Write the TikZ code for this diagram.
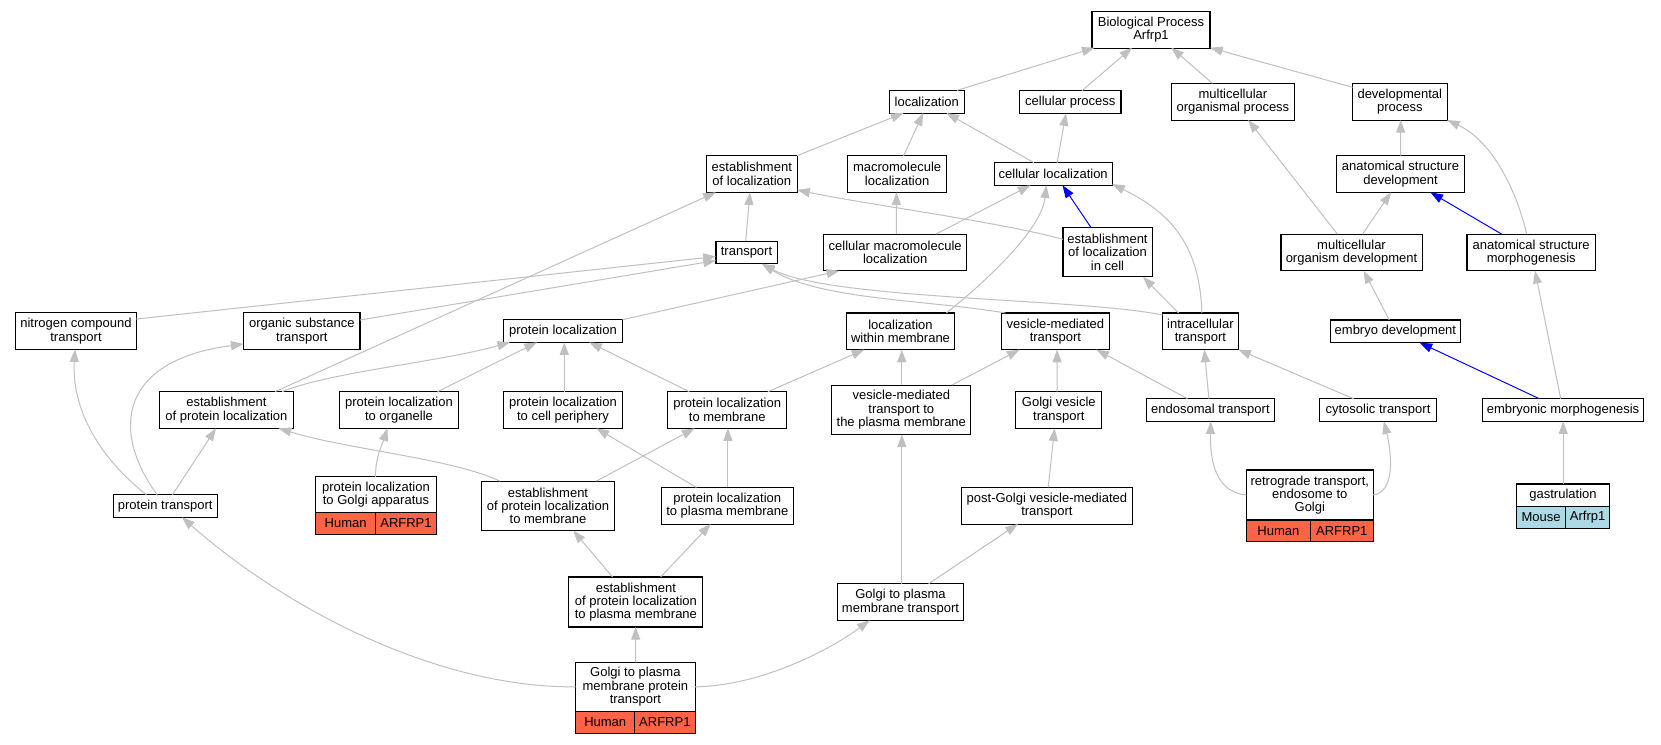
\documentclass[tikz,border=0pt]{standalone}
\usepackage{fontspec}
\setmainfont{Liberation Sans}
\usetikzlibrary{calc,arrows.meta}
\definecolor{edgegray}{HTML}{C0C0C0}
\definecolor{tomatoc}{HTML}{FF6347}
\definecolor{lblue}{HTML}{ADD8E6}
\begin{document}
\begin{tikzpicture}[x=0.75pt,y=-0.75pt,
 box/.style={draw=black, line width=0.8pt, fill=white, align=center, inner sep=1pt, outer sep=0pt, font=\fontsize{9.75}{10}\selectfont, minimum height=17pt},
 two/.style={minimum height=27.5pt},
 three/.style={minimum height=37pt},
 cell/.style={draw=black, line width=0.8pt, inner sep=0pt, outer sep=0pt, font=\fontsize{9.75}{10}\selectfont, minimum height=16.2pt},
 conn/.style={draw=edgegray, line width=0.75pt, -{Triangle[length=9.5pt,width=6.8pt]}},
 bconn/.style={conn, draw=blue},
]
\fill[white] (0,0) rectangle (1661,744);
\useasboundingbox (0,0) rectangle (1661,744);

% nodes
\node[box,two,minimum width=88.5pt] (bp) at (1151,29.7) {Biological Process\\Arfrp1};
\node[box,minimum width=56.25pt] (loc) at (926.8,101.7) {localization};
\node[box,minimum width=76pt] (cp) at (1070.3,102) {cellular process};
\node[box,two,minimum width=92.2pt] (mop) at (1232.9,101.7) {multicellular\\organismal process};
\node[box,two,minimum width=71pt] (dp) at (1399.8,101.7) {developmental\\process};
\node[box,two,minimum width=68pt] (eol) at (751.8,174) {establishment\\of localization};
\node[box,two,minimum width=74.5pt] (ml) at (897.1,174) {macromolecule\\localization};
\node[box,minimum width=88.3pt] (cl) at (1053.2,174) {cellular localization};
\node[box,two,minimum width=96.2pt] (asd) at (1400.5,174) {anatomical structure\\development};
\node[box,minimum width=45.8pt] (tr) at (746.5,252.5) {transport};
\node[box,two,minimum width=107.4pt] (cml) at (895.2,252.5) {cellular macromolecule\\localization};
\node[box,three,minimum width=66.8pt] (elc) at (1107.5,252.2) {establishment\\of localization\\in cell};
\node[box,two,minimum width=105.8pt] (mod) at (1351.5,252.5) {multicellular\\organism development};
\node[box,two,minimum width=96.3pt] (asm) at (1531.2,252.5) {anatomical structure\\morphogenesis};
\node[box,two,minimum width=90.5pt] (nct) at (76,331) {nitrogen compound\\transport};
\node[box,two,minimum width=87.3pt] (ost) at (301.8,331) {organic substance\\transport};
\node[box,minimum width=89.2pt] (pl) at (563,331) {protein localization};
\node[box,two,minimum width=81.2pt] (lwm) at (900.5,331.3) {localization\\within membrane};
\node[box,two,minimum width=81pt] (vmt) at (1055.4,331.3) {vesicle-mediated\\transport};
\node[box,two,minimum width=56.8pt] (it) at (1200.4,331.3) {intracellular\\transport};
\node[box,minimum width=98pt] (ed) at (1395.4,331.3) {embryo development};
\node[box,two,minimum width=100.2pt] (epl) at (226.4,410) {establishment\\of protein localization};
\node[box,two,minimum width=89.5pt] (plo) at (399,410) {protein localization\\to organelle};
\node[box,two,minimum width=89.2pt] (plcp) at (563,410) {protein localization\\to cell periphery};
\node[box,two,minimum width=88.9pt] (plm) at (727.2,410) {protein localization\\to membrane};
\node[box,three,minimum width=104.2pt] (vmtpm) at (901.3,409.8) {vesicle-mediated\\transport to\\the plasma membrane};
\node[box,two,minimum width=64.6pt] (gvt) at (1058.8,410) {Golgi vesicle\\transport};
\node[box,minimum width=95.9pt] (et) at (1210.4,410) {endosomal transport};
\node[box,minimum width=88.1pt] (ct) at (1378,410) {cytosolic transport};
\node[box,minimum width=121.4pt] (em) at (1563,410) {embryonic morphogenesis};
\node[box,minimum width=77.9pt] (pt) at (165.2,506) {protein transport};
\node[box,minimum width=90.5pt,minimum height=26.8pt] (plga) at (376,494.8) {protein localization\\to Golgi apparatus};
\node[cell,fill=tomatoc,minimum width=45pt,anchor=north west] (plgah) at (plga.south west) {Human};
\node[cell,fill=tomatoc,minimum width=45.5pt,anchor=north east] (plgaa) at (plga.south east) {ARFRP1};
\node[box,three,minimum width=99.9pt] (eplm) at (548,505.8) {establishment\\of protein localization\\to membrane};
\node[box,two,minimum width=98.9pt] (plpm) at (727.3,505.7) {protein localization\\to plasma membrane};
\node[box,two,minimum width=128.3pt] (pgvt) at (1046.9,505.7) {post-Golgi vesicle-mediated\\transport};
\node[box,minimum width=95.1pt,minimum height=37.5pt] (rt) at (1309.8,495) {retrograde transport,\\endosome to\\Golgi};
\node[cell,fill=tomatoc,minimum width=48pt,minimum height=16pt,anchor=north west] (rth) at (rt.south west) {Human};
\node[cell,fill=tomatoc,minimum width=47.1pt,minimum height=16pt,anchor=north east] (rta) at (rt.south east) {ARFRP1};
\node[box,minimum width=69.9pt] (ga) at (1563,495.3) {gastrulation};
\node[cell,fill=lblue,minimum width=37pt,anchor=north west] (gam) at (ga.south west) {Mouse};
\node[cell,fill=lblue,minimum width=32.9pt,anchor=north east] (gaa) at (ga.south east) {Arfrp1};
\node[box,minimum width=100.5pt,minimum height=37.5pt] (eplpm) at (635.9,602) {establishment\\of protein localization\\to plasma membrane};
\node[box,two,minimum width=95.1pt] (gpmt) at (900.5,602) {Golgi to plasma\\membrane transport};
\node[box,minimum width=89.5pt,minimum height=36.8pt] (gpmpt) at (635.4,686.8) {Golgi to plasma\\membrane protein\\transport};
\node[cell,fill=tomatoc,minimum width=44.2pt,minimum height=16.5pt,anchor=north west] (gpmpth) at (gpmpt.south west) {Human};
\node[cell,fill=tomatoc,minimum width=45.3pt,minimum height=16.5pt,anchor=north east] (gpmpta) at (gpmpt.south east) {ARFRP1};

% connectors (child -> parent)
\draw[conn] ($(loc)+(30.2,-11.3)$) -- ($(bp)+(-56.4,18)$);
\draw[conn] ($(cp)+(11.7,-11.3)$) -- ($(bp)+(-19,18)$);
\draw[conn] ($(mop)+(-20.4,-18.3)$) -- ($(bp)+(20.3,18)$);
\draw[conn] ($(dp)+(-47.3,-14.4)$) -- ($(bp)+(59,18)$);
\draw[conn] ($(eol)+(45.2,-18.3)$) -- ($(loc)+(-23.2,11.3)$);
\draw[conn] ($(ml)+(6.5,-18.3)$) -- ($(loc)+(-3.6,11.3)$);
\draw[conn] ($(cl)+(-19.2,-11.3)$) -- ($(loc)+(19.6,11.3)$);
\draw[conn] ($(cl)+(3.9,-11.3)$) -- ($(cp)+(-4.3,11.3)$);
\draw[bconn] ($(elc)+(-16.5,-24.7)$) -- ($(cl)+(9.3,11.3)$);
\draw[conn] ($(elc)+(-44.5,-12.9)$) .. controls (1000,222) and (870,205) .. ($(eol)+(45.4,16)$);
\draw[conn] ($(tr)+(-0.8,-11.3)$) -- ($(eol)+(-1.8,18.3)$);
\draw[conn] ($(cml)+(1.2,-18.3)$) -- ($(ml)+(-0.7,18.3)$);
\draw[conn] ($(cml)+(40.5,-18.3)$) -- ($(cl)+(-22.8,11.3)$);
\draw[conn] ($(lwm)+(45.9,-18.3)$) .. controls (1000,270) and (1042,225) .. ($(cl)+(-6.8,11.3)$);
\draw[conn] ($(it)+(1.4,-18.3)$) .. controls (1200,240) and (1165,210) .. ($(cl)+(58.9,10)$);
\draw[conn] ($(it)+(-21.8,-18.3)$) -- ($(elc)+(35.5,24.7)$);
\draw[conn] ($(it)+(-37.9,-16.3)$) .. controls (1080,298) and (830,300) .. ($(tr)+(15.5,11.3)$);
\draw[conn] ($(vmt)+(-50,-18.3)$) .. controls (930,300) and (820,300) .. ($(tr)+(15.5,11.3)$);
\draw[conn] ($(nct)+(60.4,-12)$) -- ($(tr)+(-30.5,4)$);
\draw[conn] ($(ost)+(58.2,-11)$) -- ($(tr)+(-30.5,8)$);
\draw[conn] ($(epl)+(48.6,-18.3)$) -- ($(eol)+(-36,18.3)$);
\draw[conn] ($(epl)+(55.6,-18.3)$) .. controls (330,372) and (440,362) .. ($(pl)+(-53,11.3)$);
\draw[conn] ($(pl)+(59.5,-11.3)$) -- ($(cml)+(-55.9,18.3)$);
\draw[conn] ($(plo)+(38.5,-18.3)$) -- ($(pl)+(-26,11.3)$);
\draw[conn] ($(plcp)+(1.3,-18.3)$) -- ($(pl)+(1.3,11.3)$);
\draw[conn] ($(plm)+(-37.9,-18.3)$) -- ($(pl)+(26.3,11.3)$);
\draw[conn] ($(plm)+(40.7,-18.3)$) -- ($(lwm)+(-36.2,18.3)$);
\draw[conn] ($(plga)+(-0.3,-17.9)$) .. controls (375,458) and (382,445) .. ($(plo)+(-11.5,18.3)$);
\draw[conn] ($(eplm)+(-48,-24.7)$) .. controls (450,458) and (350,450) .. ($(epl)+(52.2,18.3)$);
\draw[conn] ($(eplm)+(48.4,-24.7)$) -- ($(plm)+(-32.6,18.3)$);
\draw[conn] ($(plpm)+(-30.9,-18.3)$) -- ($(plcp)+(33.4,18.3)$);
\draw[conn] ($(plpm)+(0.6,-18.3)$) -- ($(plm)+(0.7,18.3)$);
\draw[conn] ($(pt)+(-18.8,-11.3)$) .. controls (90,450) and (72,400) .. ($(nct)+(-1,18.3)$);
\draw[conn] ($(pt)+(-8.1,-11.3)$) .. controls (110,430) and (120,360) .. ($(ost)+(-58.2,13)$);
\draw[conn] ($(pt)+(7.3,-11.3)$) -- ($(epl)+(-10.4,18.3)$);
\draw[conn] ($(gpmpt)+(-59.7,0)$) .. controls (440,688) and (290,612) .. ($(pt)+(16.8,11.3)$);
\draw[conn] ($(gpmpt)+(0.3,-24.5)$) -- ($(eplpm)+(-0.2,25)$);
\draw[conn] ($(gpmpt)+(59.7,0)$) .. controls (760,686) and (830,650) .. ($(gpmt)+(-30.9,18.3)$);
\draw[conn] ($(eplpm)+(-23.4,-25)$) -- ($(eplm)+(25.2,24.7)$);
\draw[conn] ($(eplpm)+(24.8,-25)$) -- ($(plpm)+(-16.6,18.3)$);
\draw[conn] ($(gpmt)+(1.3,-18.3)$) -- ($(vmtpm)+(0.5,24.7)$);
\draw[conn] ($(gpmt)+(28.1,-18.3)$) -- ($(pgvt)+(-29,18.3)$);
\draw[conn] ($(pgvt)+(1.3,-18.3)$) -- ($(gvt)+(-4.2,18.3)$);
\draw[conn] ($(vmtpm)+(0.5,-24.7)$) -- ($(lwm)+(1.3,18.3)$);
\draw[conn] ($(vmtpm)+(50.5,-24.7)$) -- ($(vmt)+(-35.8,18.3)$);
\draw[conn] ($(gvt)+(-1.7,-18.3)$) -- ($(vmt)+(1.7,18.3)$);
\draw[conn] ($(et)+(-22.9,-11.3)$) -- ($(vmt)+(41,18.3)$);
\draw[conn] ($(et)+(-1.5,-11.3)$) -- ($(it)+(3.9,18.3)$);
\draw[conn] ($(ct)+(-24.4,-11.3)$) -- ($(it)+(37.9,18.3)$);
\draw[conn] ($(rt)+(-63.4,0)$) .. controls (1215,492) and (1210,460) .. ($(et)+(0.3,11.3)$);
\draw[conn] ($(rt)+(63.4,0)$) .. controls (1395,492) and (1392,455) .. ($(ct)+(5.9,11.3)$);
\draw[bconn] ($(em)+(-23.7,-11.3)$) -- ($(ed)+(24.2,11.3)$);
\draw[conn] ($(em)+(-2.3,-11.3)$) -- ($(asm)+(3.8,18.3)$);
\draw[conn] ($(ga)+(0.2,-11.3)$) -- ($(em)+(0.2,11.3)$);
\draw[conn] ($(ed)+(-6.1,-11.3)$) -- ($(mod)+(12.1,18.3)$);
\draw[conn] ($(mod)+(-14,-18.3)$) -- ($(mop)+(15.3,18.3)$);
\draw[conn] ($(mod)+(11,-18.3)$) -- ($(asd)+(-9.5,18.3)$);
\draw[bconn] ($(asm)+(-29.4,-18.3)$) -- ($(asd)+(29.9,18.3)$);
\draw[conn] ($(asm)+(-4.4,-18.3)$) .. controls (1515,185) and (1490,140) .. ($(dp)+(47.3,18.3)$);
\draw[conn] ($(asd)+(0.2,-18.3)$) -- ($(dp)+(0.9,18.3)$);
\end{tikzpicture}
\end{document}
